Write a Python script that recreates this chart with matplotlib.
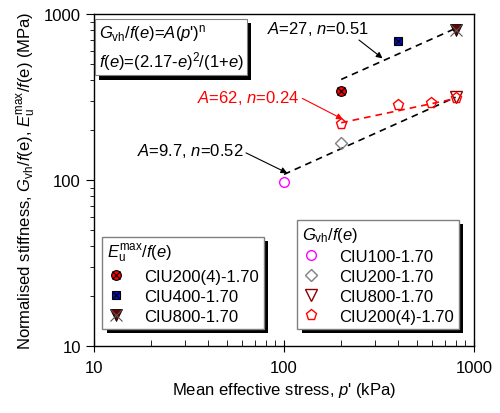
import numpy as np
import matplotlib as mpl

mpl.use("Agg")
import matplotlib.pyplot as plt  # noqa
import matplotlib.patheffects as pe  # noqa

# G_vh / f(e) data
g100_p, g100_v = [100], [97]
g200_p, g200_v = [200], [166]
g800_p, g800_v = [800], [315]
g2004_p, g2004_v = [200, 400, 595, 800], [218, 283, 291, 311]

# E_u^max / f(e) data
e2004_p, e2004_v = [200], [343]
e400_p, e400_v = [400], [685]
e800_p, e800_v = [800], [800]

# fitted lines (end points)
fit_g_p, fit_g_v = [100, 800], [108, 315]
fit_r_p, fit_r_v = [200, 800], [221, 309]
fit_e_p, fit_e_v = [200, 800], [403, 818]

plt.rcParams['font.family'] = ['Liberation Sans', 'DejaVu Sans']
plt.rcParams['mathtext.fontset'] = 'custom'
plt.rcParams['mathtext.rm'] = 'Liberation Sans'
plt.rcParams['mathtext.it'] = 'Liberation Sans:italic'
plt.rcParams['font.size'] = 12

fig = plt.figure(figsize=(5.0, 4.14), dpi=100)
ax = fig.add_axes([0.188, 0.162, 0.76, 0.802])
ax.set_xscale('log')
ax.set_yscale('log')
ax.set_xlim(10, 1000)
ax.set_ylim(10, 1000)

dash = (0, (4, 3))
ax.plot(fit_g_p, fit_g_v, color='k', ls=dash, lw=1.2)
ax.plot(fit_r_p, fit_r_v, color='red', ls=dash, lw=1.2)
ax.plot(fit_e_p, fit_e_v, color='k', ls=dash, lw=1.2)

# G_vh markers
h1, = ax.plot(g100_p, g100_v, 'o', mfc='none', mec='magenta', ms=7, label='CIU100-1.70')
h2, = ax.plot(g200_p, g200_v, 'D', mfc='none', mec='gray', ms=6, label='CIU200-1.70')
h3, = ax.plot(g800_p, g800_v, 'v', mfc='none', mec='darkred', ms=8, label='CIU800-1.70')
h4, = ax.plot(g2004_p, g2004_v, 'p', mfc='none', mec='red', ms=8, label='CIU200(4)-1.70')

# E_u markers (filled + cross)
k1a, = ax.plot(e2004_p, e2004_v, 'o', mfc='red', mec='k', ms=7, mew=0.8)
k1b, = ax.plot(e2004_p, e2004_v, 'x', color='k', ms=6, mew=0.8)
k2a, = ax.plot(e400_p, e400_v, 's', mfc='#0010c0', mec='k', ms=6, mew=0.8)
k2b, = ax.plot(e400_p, e400_v, 'x', color='k', ms=5, mew=0.8)
k3a, = ax.plot(e800_p, e800_v, 'v', mfc='#6b0000', mec='k', ms=8, mew=0.6)
k3b, = ax.plot(e800_p, e800_v, 'x', color='#555555', ms=8, mew=0.8)

# annotations
ax.annotate('$A$=27, $n$=0.51', xy=(330, 540), xytext=(150, 820),
            ha='center', va='center',
            arrowprops=dict(arrowstyle='-|>', color='k', lw=0.8, mutation_scale=9,
                            shrinkA=0, shrinkB=0, relpos=(0.85, 0.1)))
ax.annotate('$A$=62, $n$=0.24', xy=(204, 232), xytext=(65, 316),
            ha='center', va='center', color='red',
            arrowprops=dict(arrowstyle='-|>', color='red', lw=0.8, mutation_scale=9,
                            shrinkA=0, shrinkB=0, relpos=(1, 0.5)))
ax.annotate('$A$=9.7, $n$=0.52', xy=(104, 110), xytext=(32, 152),
            ha='center', va='center',
            arrowprops=dict(arrowstyle='-|>', color='k', lw=0.8, mutation_scale=9,
                            shrinkA=0, shrinkB=0, relpos=(1, 0.4)))

shadow = [pe.SimplePatchShadow(offset=(3, -3), shadow_rgbFace='k', alpha=1), pe.Normal()]

ax.text(0.012, 0.975, "$G_{\\mathrm{vh}}$/$f$($e$)=$A$($p$')$^{\\mathrm{n}}$\n"
        "$f$($e$)=(2.17-$e$)$^2$/(1+$e$)",
        transform=ax.transAxes, ha='left', va='top', linespacing=1.35,
        bbox=dict(boxstyle='square,pad=0.2', fc='white', ec='gray', lw=0.8,
                  path_effects=shadow))

leg1 = ax.legend([(k1a, k1b), (k2a, k2b), (k3a, k3b)],
                 ['CIU200(4)-1.70', 'CIU400-1.70', 'CIU800-1.70'],
                 title='$E_{\\mathrm{u}}^{\\mathrm{max}}$/$f$($e$)',
                 loc='lower left', bbox_to_anchor=(0.0, 0.025), fancybox=False,
                 framealpha=1, edgecolor='gray', shadow=False,
                 handlelength=1.0, handletextpad=1.2, borderpad=0.3,
                 labelspacing=0.3, alignment='left')
leg1.get_frame().set_path_effects(shadow)
ax.add_artist(leg1)

leg2 = ax.legend([h1, h2, h3, h4],
                 ['CIU100-1.70', 'CIU200-1.70', 'CIU800-1.70', 'CIU200(4)-1.70'],
                 title='$G_{\\mathrm{vh}}$/$f$($e$)',
                 loc='lower right', bbox_to_anchor=(0.982, 0.025), fancybox=False,
                 framealpha=1, edgecolor='gray',
                 handlelength=1.0, handletextpad=1.2, borderpad=0.3,
                 labelspacing=0.3, alignment='left')
leg2.get_frame().set_path_effects(shadow)

ax.set_xlabel("Mean effective stress, $p$' (kPa)")
ax.set_ylabel('Normalised stiffness, $G_{\\mathrm{vh}}$/$f$(e), '
              '$E_{\\mathrm{u}}^{\\mathrm{max}}$/$f$(e) (MPa)')

ax.set_xticks([10, 100, 1000], ['10', '100', '1000'])
ax.set_yticks([10, 100, 1000], ['10', '100', '1000'])
ax.tick_params(axis='x', which='major', direction='inout', length=8, pad=6)
ax.tick_params(axis='x', which='minor', direction='in', length=4)
ax.tick_params(axis='y', which='major', direction='out', length=6)
ax.tick_params(axis='y', which='minor', direction='out', length=3)
for s in ax.spines.values():
    s.set_linewidth(1.0)

fig.savefig('out.png', dpi=100)
